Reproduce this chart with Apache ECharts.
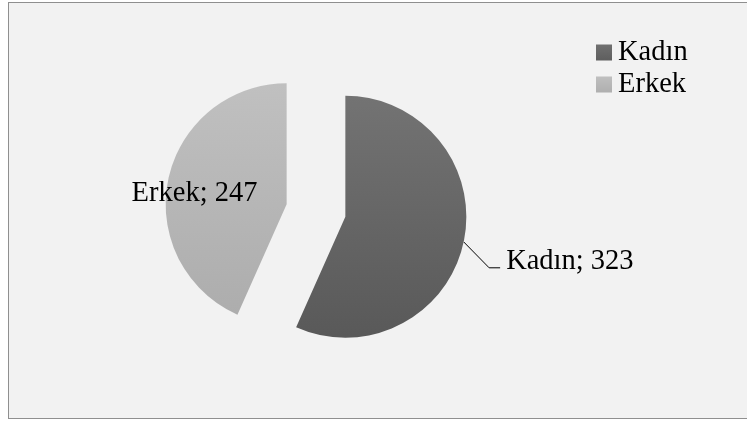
<!DOCTYPE html>
<html>
<head>
<meta charset="utf-8">
<script src="https://cdn.jsdelivr.net/npm/echarts@6/dist/echarts.min.js"></script>
<style>
  html, body { margin: 0; padding: 0; background: #ffffff; width: 747px; height: 421px; overflow: hidden; }
  #frame {
    position: absolute; left: 8px; top: 2px;
    width: 750px; height: 415px;
    background: #f2f2f2;
    border: 1.5px solid #8f8f8f;
  }
  #chart { width: 745px; height: 415px; }
</style>
</head>
<body>
<div id="frame"><div id="chart"></div></div>
<script>
// Gender breakdown
const categories = ['Kadın', 'Erkek'];
const values = [323, 247];

const FONT = "'Liberation Serif', 'Times New Roman', serif";

const sliceColors = [
  new echarts.graphic.LinearGradient(0, 0, 0, 1, [
    { offset: 0, color: '#737373' },
    { offset: 1, color: '#595959' }
  ]),
  new echarts.graphic.LinearGradient(0, 0, 0, 1, [
    { offset: 0, color: '#c0c0c0' },
    { offset: 1, color: '#adadad' }
  ])
];
const legendColors = [
  new echarts.graphic.LinearGradient(0, 0, 0, 1, [
    { offset: 0, color: '#707070' },
    { offset: 1, color: '#5e5e5e' }
  ]),
  new echarts.graphic.LinearGradient(0, 0, 0, 1, [
    { offset: 0, color: '#bfbfbf' },
    { offset: 1, color: '#afafaf' }
  ])
];

const chart = echarts.init(document.getElementById('chart'), null, { renderer: 'canvas' });

const pieData = categories.map((name, i) => ({
  name: name,
  value: values[i],
  selected: true,
  itemStyle: { color: sliceColors[i] },
  label: i === 0
    ? { position: 'outside' }
    : { position: 'inside' },
  labelLine: { show: i === 0 }
}));

// Outer label sits lower than the slice edge; its leader bends down to meet it.
const LABEL_DROP = 14;
const LINE_DROP = 20.5;

chart.setOption({
  animation: false,
  backgroundColor: 'transparent',
  legend: {
    orient: 'vertical',
    left: 582,
    top: 30,
    itemWidth: 16,
    itemHeight: 16,
    itemGap: 3,
    icon: 'rect',
    data: categories.map((name, i) => ({
      name: name,
      itemStyle: { color: legendColors[i] }
    })),
    textStyle: { fontFamily: FONT, fontSize: 28.5, color: '#000000', lineHeight: 29, padding: [0, 0, 0, 1] }
  },
  series: [{
    type: 'pie',
    center: [307, 207.5],
    radius: 121,
    startAngle: 90,
    clockwise: true,
    selectedMode: 'multiple',
    selectedOffset: 30,
    silent: true,
    data: pieData,
    label: {
      formatter: '{b}; {c}',
      fontFamily: FONT,
      fontSize: 28.5,
      color: '#000000',
      distanceToLabelLine: 6
    },
    labelLine: {
      length: 26,
      length2: 11,
      lineStyle: { color: '#000000', width: 1 }
    },
    labelLayout: function (params) {
      if (params.dataIndex !== 0) {
        return { dx: -30, dy: 2 };
      }
      const pts = params.labelLinePoints;
      if (!pts) return { dy: LABEL_DROP };
      return {
        dy: LABEL_DROP,
        labelLinePoints: [
          [pts[0][0], pts[0][1]],
          [pts[1][0], pts[1][1] + LINE_DROP],
          [pts[2][0], pts[2][1] + LINE_DROP]
        ]
      };
    }
  }]
});
</script>
</body>
</html>
